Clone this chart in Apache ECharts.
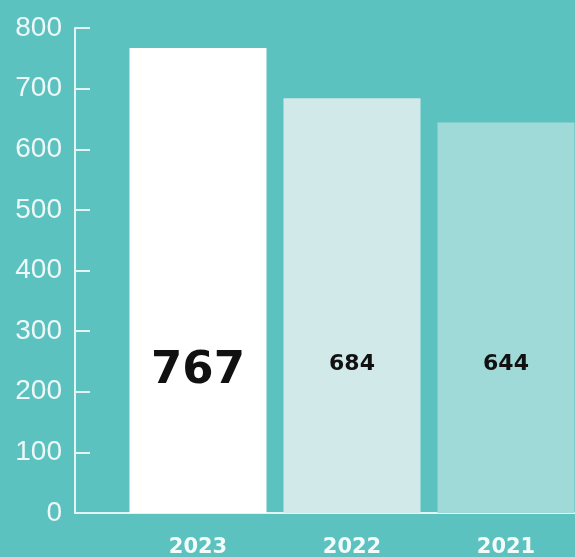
<!DOCTYPE html>
<html><head><meta charset="utf-8">
<script src="https://cdn.jsdelivr.net/npm/echarts@6/dist/echarts.min.js"></script>
<style>html,body{margin:0;padding:0;background:#5BC2BF;overflow:hidden}#c{width:575px;height:557px}</style>
</head><body><div id="c"></div>
<script>
const years = ['2023', '2022', '2021'];
const values = [767, 684, 644];
const yMin = 0, yMax = 800, yStep = 100;

const barColors = ['#FFFFFF', '#D1EAE9', '#A0DAD8'];
const labelSizes = [45, 22];
const labelPos = [['50%', '69.6%'], ['50%', '64.1%'], ['50%', '61.8%']];

const chart = echarts.init(document.getElementById('c'), null, {renderer: 'canvas'});
const axisCol = '#E3F4F3';
chart.setOption({
  backgroundColor: '#5BC2BF',
  animation: false,
  grid: [
    {left: 121, width: 462, top: 28, bottom: 44, outerBoundsMode: 'none', containLabel: false},
    {left: 75, right: 0, top: 28, bottom: 44, outerBoundsMode: 'none', containLabel: false}
  ],
  xAxis: [
    {
      type: 'category', gridIndex: 0, data: years,
      axisLine: {show: false}, axisTick: {show: false},
      axisLabel: {color: '#F4FBFB', fontFamily: 'DejaVu Sans', fontWeight: 'bold', fontSize: 21, margin: 24}
    },
    {
      type: 'value', gridIndex: 1, min: 0, max: 1,
      axisLine: {show: true, lineStyle: {color: axisCol, width: 2}},
      axisTick: {show: false}, axisLabel: {show: false}, splitLine: {show: false}
    }
  ],
  yAxis: [
    {
      type: 'value', gridIndex: 0, min: yMin, max: yMax, interval: yStep, offset: 46,
      axisLine: {show: true, lineStyle: {color: axisCol, width: 2}},
      axisTick: {show: true, inside: true, length: 15, lineStyle: {color: axisCol, width: 2}},
      axisLabel: {color: '#EEF8F8', fontFamily: 'Liberation Sans', fontSize: 28, margin: 13},
      splitLine: {show: false}
    },
    {type: 'value', gridIndex: 1, min: 0, max: 1, show: false}
  ],
  series: [{
    type: 'bar', xAxisIndex: 0, yAxisIndex: 0,
    barWidth: 137,
    data: values.map((v, i) => ({
      value: v,
      itemStyle: {color: barColors[i]},
      label: {
        show: true, position: labelPos[i], align: 'center', verticalAlign: 'middle',
        color: '#111111', fontFamily: 'DejaVu Sans', fontWeight: 'bold',
        fontSize: i === 0 ? labelSizes[0] : labelSizes[1]
      }
    }))
  }]
});
</script>
</body></html>
